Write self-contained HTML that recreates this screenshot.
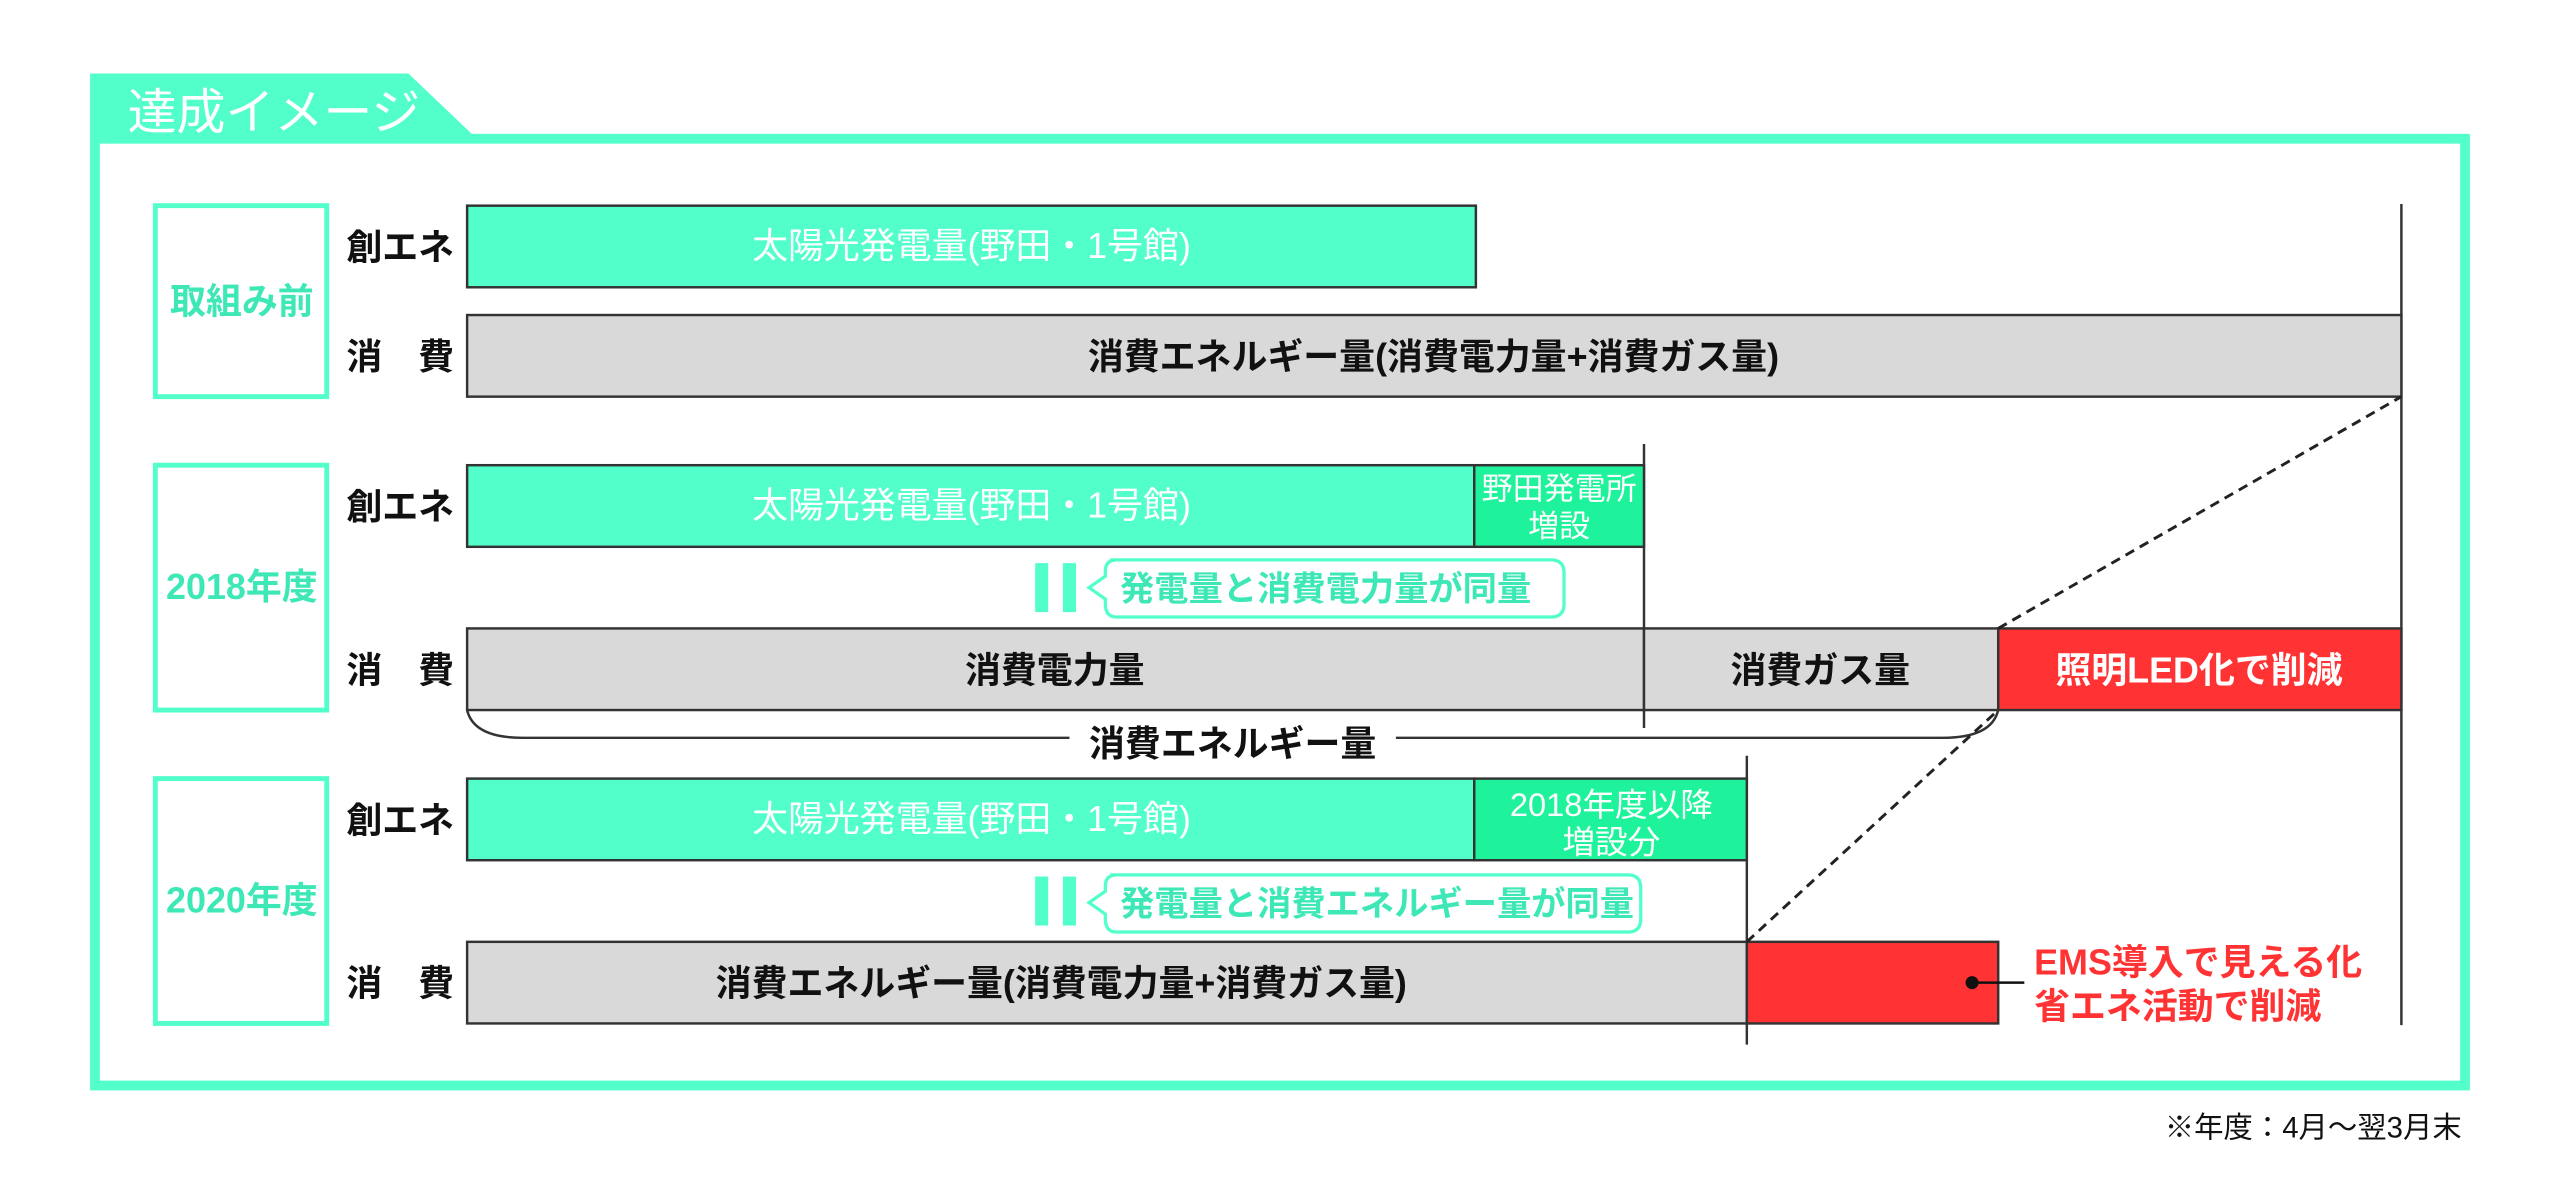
<!DOCTYPE html>
<html><head><meta charset="utf-8"><style>
html,body{margin:0;padding:0;background:#fff;}
svg{display:block;font-family:"Liberation Sans","Noto Sans CJK JP",sans-serif;}
</style></head><body>
<svg width="2560" height="1203" viewBox="0 0 1568 737" xmlns="http://www.w3.org/2000/svg">
<!-- tab -->
<polygon points="55,45 250,45 292,85 55,85" fill="#52FFCB"/>
<text x="78" y="79" font-size="30" fill="#fff">達成イメージ</text>
<rect x="58" y="85" width="1452" height="580" fill="none" stroke="#52FFCB" stroke-width="6"/>

<g fill="none" stroke="#52FFCB" stroke-width="3">
<rect x="95" y="126" width="105" height="117"/>
<rect x="95" y="285" width="105" height="150"/>
<rect x="95" y="477" width="105" height="150"/>
</g>
<g font-size="22" font-weight="bold" fill="#3EE8B6" text-anchor="middle">
<text x="148" y="192">取組み前</text>
<text x="148" y="367">2018年度</text>
<text x="148" y="559">2020年度</text>
</g>
<g font-size="22" font-weight="bold" fill="#111">
<text x="212" y="159">創エネ</text>
<text x="212" y="226">消　費</text>
<text x="212" y="318">創エネ</text>
<text x="212" y="418">消　費</text>
<text x="212" y="510">創エネ</text>
<text x="212" y="610">消　費</text>
</g>

<g stroke="#333" stroke-width="1.5">
<line x1="1471" y1="125" x2="1471" y2="628"/>
<line x1="1007" y1="272" x2="1007" y2="446"/>
<line x1="1070" y1="463" x2="1070" y2="640"/>
</g>

<g stroke="#333" stroke-width="1.5">
<rect x="286" y="126" width="618" height="50" fill="#52FFCB"/>
<rect x="286" y="193" width="1185" height="50" fill="#D9D9D9"/>
<rect x="286" y="285" width="617" height="50" fill="#52FFCB"/>
<rect x="903" y="285" width="104" height="50" fill="#1EF39B"/>
<rect x="286" y="385" width="721" height="50" fill="#D9D9D9"/>
<rect x="1007" y="385" width="217" height="50" fill="#D9D9D9"/>
<rect x="1224" y="385" width="247" height="50" fill="#FF3333"/>
<rect x="286" y="477" width="617" height="50" fill="#52FFCB"/>
<rect x="903" y="477" width="167" height="50" fill="#1EF39B"/>
<rect x="286" y="577" width="784" height="50" fill="#D9D9D9"/>
<rect x="1070" y="577" width="154" height="50" fill="#FF3333"/>
</g>

<g font-size="22" fill="#fff" text-anchor="middle">
<text x="595" y="158">太陽光発電量(野田・1号館)</text>
<text x="595" y="317">太陽光発電量(野田・1号館)</text>
<text x="595" y="509">太陽光発電量(野田・1号館)</text>
<text x="955" y="306" font-size="19">野田発電所</text>
<text x="955" y="329" font-size="19">増設</text>
<text x="987" y="500" font-size="20">2018年度以降</text>
<text x="987" y="523" font-size="20">増設分</text>
<text x="1347" y="418" font-weight="bold">照明LED化で削減</text>
</g>
<g font-size="22" font-weight="bold" fill="#111" text-anchor="middle">
<text x="878" y="226">消費エネルギー量(消費電力量+消費ガス量)</text>
<text x="646" y="418">消費電力量</text>
<text x="1115" y="418">消費ガス量</text>
<text x="650" y="610">消費エネルギー量(消費電力量+消費ガス量)</text>
<text x="755" y="463">消費エネルギー量</text>
</g>

<path d="M286,435 Q290,452 320,452 L655,452 M855,452 L1190,452 Q1220,452 1224,435" fill="none" stroke="#333" stroke-width="1.5"/>

<g stroke="#222" stroke-width="1.8" stroke-dasharray="6,4">
<line x1="1224" y1="385" x2="1471" y2="243"/>
<line x1="1070" y1="577" x2="1224" y2="435"/>
</g>

<g fill="#52FFCB">
<rect x="634" y="345" width="8" height="30"/>
<rect x="651" y="345" width="8" height="30"/>
<rect x="634" y="537" width="8" height="30"/>
<rect x="651" y="537" width="8" height="30"/>
</g>
<g fill="#fff" stroke="#52FFCB" stroke-width="2">
<path d="M680,343 H950 Q958,343 958,351 V370 Q958,378 950,378 H684 Q677,378 677,370 V367 L667,360 L677,353 V350 Q677,343 684,343 Z"/>
<path d="M680,536 H997 Q1005,536 1005,544 V563 Q1005,571 997,571 H684 Q677,571 677,563 V560 L667,553 L677,546 V543 Q677,536 684,536 Z"/>
</g>
<g font-size="21" font-weight="bold" fill="#3EE8B6">
<text x="686" y="368">発電量と消費電力量が同量</text>
<text x="686" y="561">発電量と消費エネルギー量が同量</text>
</g>

<circle cx="1208" cy="602" r="4" fill="#111"/>
<line x1="1208" y1="602" x2="1240" y2="602" stroke="#111" stroke-width="1.5"/>
<g font-size="22" font-weight="bold" fill="#FF3333">
<text x="1246" y="597">EMS導入で見える化</text>
<text x="1246" y="624">省エネ活動で削減</text>
</g>

<text x="1508" y="697" font-size="18" fill="#111" text-anchor="end">※年度：4月〜翌3月末</text>
</svg>
</body></html>
